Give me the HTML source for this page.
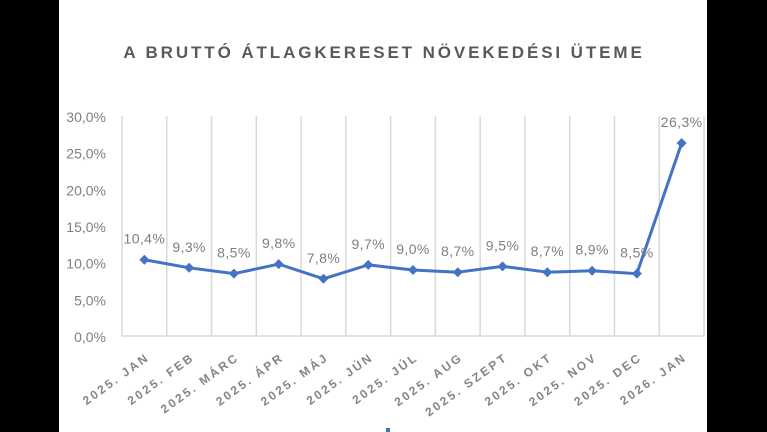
<!DOCTYPE html>
<html><head><meta charset="utf-8"><style>
html,body{margin:0;padding:0;background:#000;width:767px;height:432px;overflow:hidden}
svg{display:block}
</style></head><body>
<svg width="767" height="432" viewBox="0 0 767 432" xmlns="http://www.w3.org/2000/svg">
<rect x="0" y="0" width="767" height="432" fill="#000"/>
<rect x="59" y="0" width="648" height="432" fill="#fff"/>
<text x="384" y="58" text-anchor="middle" font-family="Liberation Sans, sans-serif" font-weight="bold" font-size="17" letter-spacing="2.9" fill="#595959">A BRUTTÓ ÁTLAGKERESET NÖVEKEDÉSI ÜTEME</text>
<g stroke="#d9d9d9" stroke-width="1.5">
<line x1="122" y1="116" x2="122" y2="336"/>
<line x1="166.77" y1="116" x2="166.77" y2="336"/>
<line x1="211.54" y1="116" x2="211.54" y2="336"/>
<line x1="256.31" y1="116" x2="256.31" y2="336"/>
<line x1="301.08" y1="116" x2="301.08" y2="336"/>
<line x1="345.85" y1="116" x2="345.85" y2="336"/>
<line x1="390.62" y1="116" x2="390.62" y2="336"/>
<line x1="435.39" y1="116" x2="435.39" y2="336"/>
<line x1="480.16" y1="116" x2="480.16" y2="336"/>
<line x1="524.93" y1="116" x2="524.93" y2="336"/>
<line x1="569.7" y1="116" x2="569.7" y2="336"/>
<line x1="614.47" y1="116" x2="614.47" y2="336"/>
<line x1="659.24" y1="116" x2="659.24" y2="336"/>
<line x1="704" y1="116" x2="704" y2="336"/>
<line x1="121.3" y1="336" x2="704.7" y2="336"/>
</g>
<g font-family="Liberation Sans, sans-serif" font-size="14" fill="#7f7f7f" text-anchor="end">
<text x="106" y="122">30,0%</text>
<text x="106" y="158.7">25,0%</text>
<text x="106" y="195.3">20,0%</text>
<text x="106" y="232">15,0%</text>
<text x="106" y="268.7">10,0%</text>
<text x="106" y="305.3">5,0%</text>
<text x="106" y="342">0,0%</text>
</g>
<polyline fill="none" stroke="#4472C4" stroke-width="3" stroke-linejoin="round" points="144.38,259.73 189.15,267.8 233.93,273.67 278.7,264.13 323.47,278.8 368.24,264.87 413.01,270 457.78,272.2 502.55,266.33 547.33,272.2 592.1,270.73 636.87,273.67 681.64,143.13"/>
<g fill="#4472C4">
<path d="M144.38 254.73 L149.38 259.73 L144.38 264.73 L139.38 259.73Z"/>
<path d="M189.15 262.8 L194.15 267.8 L189.15 272.8 L184.15 267.8Z"/>
<path d="M233.93 268.67 L238.93 273.67 L233.93 278.67 L228.93 273.67Z"/>
<path d="M278.7 259.13 L283.7 264.13 L278.7 269.13 L273.7 264.13Z"/>
<path d="M323.47 273.8 L328.47 278.8 L323.47 283.8 L318.47 278.8Z"/>
<path d="M368.24 259.87 L373.24 264.87 L368.24 269.87 L363.24 264.87Z"/>
<path d="M413.01 265 L418.01 270 L413.01 275 L408.01 270Z"/>
<path d="M457.78 267.2 L462.78 272.2 L457.78 277.2 L452.78 272.2Z"/>
<path d="M502.55 261.33 L507.55 266.33 L502.55 271.33 L497.55 266.33Z"/>
<path d="M547.33 267.2 L552.33 272.2 L547.33 277.2 L542.33 272.2Z"/>
<path d="M592.1 265.73 L597.1 270.73 L592.1 275.73 L587.1 270.73Z"/>
<path d="M636.87 268.67 L641.87 273.67 L636.87 278.67 L631.87 273.67Z"/>
<path d="M681.64 138.13 L686.64 143.13 L681.64 148.13 L676.64 143.13Z"/>
</g>
<g font-family="Liberation Sans, sans-serif" font-size="14" fill="#7f7f7f" text-anchor="middle" letter-spacing="0.4">
<text x="144.38" y="243.7">10,4%</text>
<text x="189.15" y="251.8">9,3%</text>
<text x="233.93" y="257.7">8,5%</text>
<text x="278.7" y="248.1">9,8%</text>
<text x="323.47" y="262.8">7,8%</text>
<text x="368.24" y="248.9">9,7%</text>
<text x="413.01" y="254">9,0%</text>
<text x="457.78" y="256.2">8,7%</text>
<text x="502.55" y="250.3">9,5%</text>
<text x="547.33" y="256.2">8,7%</text>
<text x="592.1" y="254.7">8,9%</text>
<text x="636.87" y="257.7">8,5%</text>
<text x="681.64" y="127.1">26,3%</text>
</g>
<g font-family="Liberation Sans, sans-serif" font-size="12" font-weight="bold" fill="#858585" text-anchor="end" letter-spacing="2.4">
<text x="150.4" y="359" transform="rotate(-36 150.4 359)">2025. JAN</text>
<text x="195.2" y="359" transform="rotate(-36 195.2 359)">2025. FEB</text>
<text x="239.9" y="359" transform="rotate(-36 239.9 359)">2025. MÁRC</text>
<text x="284.7" y="359" transform="rotate(-36 284.7 359)">2025. ÁPR</text>
<text x="329.5" y="359" transform="rotate(-36 329.5 359)">2025. MÁJ</text>
<text x="374.2" y="359" transform="rotate(-36 374.2 359)">2025. JÚN</text>
<text x="419" y="359" transform="rotate(-36 419 359)">2025. JÚL</text>
<text x="463.8" y="359" transform="rotate(-36 463.8 359)">2025. AUG</text>
<text x="508.6" y="359" transform="rotate(-36 508.6 359)">2025. SZEPT</text>
<text x="553.3" y="359" transform="rotate(-36 553.3 359)">2025. OKT</text>
<text x="598.1" y="359" transform="rotate(-36 598.1 359)">2025. NOV</text>
<text x="642.9" y="359" transform="rotate(-36 642.9 359)">2025. DEC</text>
<text x="687.6" y="359" transform="rotate(-36 687.6 359)">2026. JAN</text>
</g>
<rect x="386" y="428" width="4" height="4" fill="#4472C4"/>
</svg>
</body></html>
